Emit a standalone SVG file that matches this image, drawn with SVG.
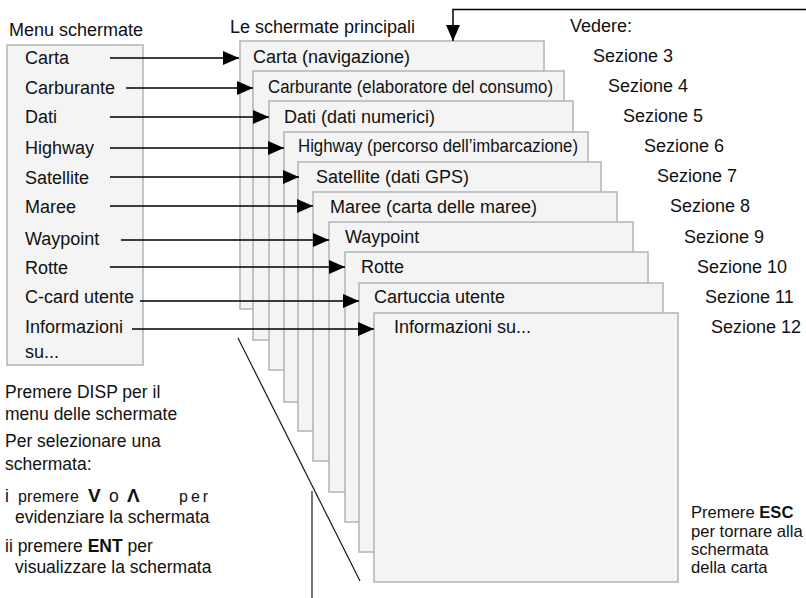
<svg xmlns="http://www.w3.org/2000/svg" width="806" height="598" viewBox="0 0 806 598">
<defs>
<marker id="ah" markerUnits="userSpaceOnUse" markerWidth="17" markerHeight="15" refX="16" refY="7" orient="auto">
<path d="M0,0 L16,7 L0,14 z" fill="#000"/>
</marker>
<style>
text{font-family:"Liberation Sans",Arial,Helvetica,sans-serif;font-size:18px;fill:#111}
.pg{fill:#f4f4f4;stroke:#b3b3b3;stroke-width:1.5}
.ar{stroke:#000;stroke-width:1.5;fill:none;marker-end:url(#ah)}
.ln{stroke:#1a1a1a;stroke-width:1.2;fill:none}
.b{font-weight:bold}
.n{font-size:17.5px}
.s{font-size:16.6px}
</style>
</defs>
<g id="menu">
<rect class="pg" x="7" y="45" width="136" height="320"/>
<text x="9" y="36">Menu schermate</text>
<text x="25" y="64">Carta</text>
<text x="25" y="94">Carburante</text>
<text x="25" y="123">Dati</text>
<text x="25" y="154">Highway</text>
<text x="25" y="184">Satellite</text>
<text x="25" y="213">Maree</text>
<text x="25" y="245">Waypoint</text>
<text x="25" y="274">Rotte</text>
<text x="25" y="303">C-card utente</text>
<text x="25" y="333">Informazioni</text>
<text x="25" y="358">su...</text>
</g>
<text x="230" y="33">Le schermate principali</text>
<text x="570" y="32">Vedere:</text>
<g id="p1"><rect class="pg" x="240" y="41" width="304" height="268"/><text x="253" y="63">Carta (navigazione)</text></g>
<g id="p2"><rect class="pg" x="253" y="71" width="311" height="269"/><text x="268" y="93" textLength="285" lengthAdjust="spacingAndGlyphs">Carburante (elaboratore del consumo)</text></g>
<g id="p3"><rect class="pg" x="269" y="101" width="304" height="269"/><text x="284" y="123">Dati (dati numerici)</text></g>
<g id="p4"><rect class="pg" x="284" y="132" width="304" height="270"/><text x="298" y="152" textLength="280" lengthAdjust="spacingAndGlyphs">Highway (percorso dell’imbarcazione)</text></g>
<g id="p5"><rect class="pg" x="298" y="162" width="303" height="269"/><text x="316" y="183">Satellite (dati GPS)</text></g>
<g id="p6"><rect class="pg" x="313" y="192" width="304" height="269"/><text x="330" y="213">Maree (carta delle maree)</text></g>
<g id="p7"><rect class="pg" x="329" y="222" width="304" height="270"/><text x="345" y="243">Waypoint</text></g>
<g id="p8"><rect class="pg" x="345" y="252" width="303" height="270"/><text x="361" y="273">Rotte</text></g>
<g id="p9"><rect class="pg" x="359" y="283" width="304" height="269"/><text x="374" y="303">Cartuccia utente</text></g>
<g id="p10"><rect class="pg" x="374" y="313" width="304" height="269"/><text x="394" y="333">Informazioni su...</text></g>
<g id="sections">
<text x="593" y="62">Sezione 3</text>
<text x="608" y="92">Sezione 4</text>
<text x="623" y="122">Sezione 5</text>
<text x="644" y="152">Sezione 6</text>
<text x="657" y="182">Sezione 7</text>
<text x="670" y="212">Sezione 8</text>
<text x="684" y="243">Sezione 9</text>
<text x="697" y="273">Sezione 10</text>
<text x="705" y="303">Sezione 11</text>
<text x="711" y="333">Sezione 12</text>
</g>
<g id="connectors">
<path class="ar" d="M110,58 H239"/>
<path class="ar" d="M126,88 H253"/>
<path class="ar" d="M110,117 H269"/>
<path class="ar" d="M110,148 H284"/>
<path class="ar" d="M110,177 H299"/>
<path class="ar" d="M110,206 H313"/>
<path class="ar" d="M121,240 H329"/>
<path class="ar" d="M110,267 H345"/>
<path class="ar" d="M140,301 H359"/>
<path class="ar" d="M132,329 H374"/>
<path class="ar" d="M806,9.5 H453 V41"/>
<path class="ln" d="M238,338 L360,581"/>
<path class="ln" d="M312,491 V598"/>
</g>
<g id="notes">
<text class="n" x="5" y="398">Premere DISP per il</text>
<text class="n" x="5" y="420">menu delle schermate</text>
<text class="n" x="5" y="447">Per selezionare una</text>
<text class="n" x="5" y="470">schermata:</text>
<text class="n" y="502"><tspan x="5">i</tspan><tspan x="18" font-size="16" letter-spacing="0.2">premere</tspan><tspan x="88" class="b" font-size="19">V</tspan><tspan x="109">o</tspan><tspan x="127" class="b" font-size="19">Λ</tspan><tspan x="179" font-size="16" letter-spacing="3">per</tspan></text>
<text class="n" x="15" y="523">evidenziare la schermata</text>
<text class="n" x="5" y="552">ii premere <tspan class="b">ENT</tspan> per</text>
<text class="n" x="15" y="573">visualizzare la schermata</text>
<text class="s" x="691" y="518">Premere <tspan class="b">ESC</tspan></text>
<text class="s" x="691" y="537">per tornare alla</text>
<text class="s" x="691" y="555">schermata</text>
<text class="s" x="691" y="573">della carta</text>
</g>
</svg>
